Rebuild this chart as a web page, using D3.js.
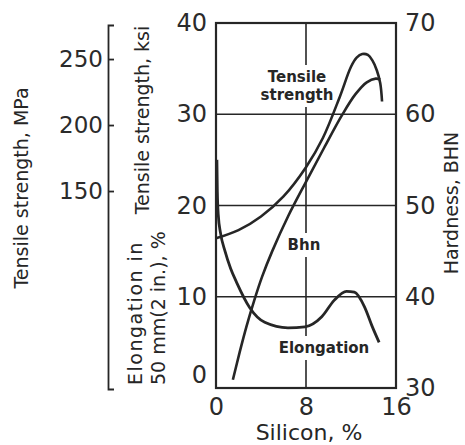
<!DOCTYPE html>
<html>
<head>
<meta charset="utf-8">
<script src="https://cdn.jsdelivr.net/npm/d3@7"></script>
<style>
  body { margin: 0; background: #fff; }
  svg { display: block; font-family: "DejaVu Sans", sans-serif; }
  .tick text { fill: #2b2b2b; }
</style>
</head>
<body>
<svg id="chart" width="465" height="445"></svg>
<script>
// tick values
const siliconTicks = [0, 8, 16];
const ksiTicks = [0, 10, 20, 30, 40];
const bhnTicks = [30, 40, 50, 60, 70];
const mpaTicks = [150, 200, 250];

// tensile strength, ksi vs silicon %
const tensileSi = [0, 2, 4, 6, 8, 9.5, 11, 12, 12.5, 13.0, 13.5, 13.9, 14.3, 14.6, 14.76];
const tensileKsi = [16.4, 17.3, 18.8, 21.0, 24.2, 27.4, 31.9, 35.2, 36.2, 36.6, 36.5, 35.9, 34.8, 33.4, 31.4];

// hardness, BHN vs silicon %
const bhnSi = [1.5, 2.1, 2.7, 3.4, 4.1, 5.0, 6.4, 8.0, 9.6, 11.2, 12.4, 13.4, 14.2, 14.6];
const bhnVal = [30.9, 33.9, 36.7, 39.6, 42.2, 45.0, 48.8, 52.6, 56.3, 59.9, 62.2, 63.5, 63.9, 63.8];

// elongation, % vs silicon %
const elongSi = [0.08, 0.12, 0.2, 0.4, 0.8, 1.3, 1.86, 3.0, 4.33, 6.4, 7.9, 9.4, 10.5, 11.6, 12.3, 13.2, 13.9, 14.5];
const elongPct = [25.0, 21.5, 19.0, 17.0, 15.0, 13.1, 11.5, 8.8, 7.2, 6.6, 6.7, 7.8, 9.6, 10.6, 10.5, 8.9, 6.7, 5.0];

const ink = "#262626";
const svg = d3.select("#chart");

const x = d3.scaleLinear().domain([0, 16]).range([216, 396]);
const yL = d3.scaleLinear().domain([0, 40]).range([388, 23]);
const yR = d3.scaleLinear().domain([30, 70]).range([388, 23]);
const yMPa = d3.scaleLinear().domain([0, 40 * 6.895]).range([389, 25]);

// grid lines
svg.append("g").selectAll("line").data([10, 20, 30]).enter().append("line")
  .attr("x1", x(0)).attr("x2", x(16))
  .attr("y1", d => yL(d)).attr("y2", d => yL(d))
  .attr("stroke", ink).attr("stroke-width", 1.6);
svg.append("line")
  .attr("x1", x(8)).attr("x2", x(8)).attr("y1", yL(0)).attr("y2", yL(40))
  .attr("stroke", ink).attr("stroke-width", 1.6);

// labels inside the plot (white boxes break the grid line)
const inner = svg.append("g").attr("font-weight", "bold").attr("fill", ink)
  .attr("font-size", 15).attr("text-anchor", "middle");
function innerLabel(lines, cx, y0) {
  const t = inner.append("text");
  lines.forEach((s, i) => t.append("tspan").attr("x", cx).attr("y", y0 + i * 18).text(s));
  const b = t.node().getBBox();
  inner.insert("rect", () => t.node())
    .attr("x", b.x - 3).attr("y", b.y - 3).attr("width", b.width + 6).attr("height", b.height + 6)
    .attr("fill", "#fff");
}
innerLabel(["Tensile", "strength"], 297, 82);
innerLabel(["Bhn"], 304, 250);
innerLabel(["Elongation"], 324, 353);

// frame
svg.append("rect")
  .attr("x", x(0)).attr("y", yL(40)).attr("width", x(16) - x(0)).attr("height", yL(0) - yL(40))
  .attr("fill", "none").attr("stroke", ink).attr("stroke-width", 2.2);

// curves
const curve = d3.curveCatmullRom.alpha(0.5);
const lineL = d3.line().x(d => x(d[0])).y(d => yL(d[1])).curve(curve);
const lineR = d3.line().x(d => x(d[0])).y(d => yR(d[1])).curve(curve);
const lineE = d3.line().x(d => x(d[0])).y(d => yL(d[1])).curve(d3.curveMonotoneX);

svg.append("path").attr("d", lineL(d3.zip(tensileSi, tensileKsi)))
  .attr("fill", "none").attr("stroke", ink).attr("stroke-width", 2.6);
svg.append("path").attr("d", lineR(d3.zip(bhnSi, bhnVal)))
  .attr("fill", "none").attr("stroke", ink).attr("stroke-width", 2.6);
svg.append("path").attr("d", lineE(d3.zip(elongSi, elongPct)))
  .attr("fill", "none").attr("stroke", ink).attr("stroke-width", 2.8);

// axes
const axL = svg.append("g").attr("transform", `translate(${x(0)},0)`)
  .call(d3.axisLeft(yL).tickValues(ksiTicks).tickSize(0).tickPadding(9));
axL.select(".domain").remove();
axL.selectAll(".tick text").filter(d => d === 0).attr("dy", "-0.25em");

const axR = svg.append("g").attr("transform", `translate(${x(16)},0)`)
  .call(d3.axisRight(yR).tickValues(bhnTicks).tickSize(0).tickPadding(9));
axR.select(".domain").remove();

const axB = svg.append("g").attr("transform", `translate(0,${yL(0)})`)
  .call(d3.axisBottom(x).tickValues(siliconTicks).tickSize(0).tickPadding(10));
axB.select(".domain").remove();

[axL, axR, axB].forEach(a => a.selectAll("text").attr("font-size", 24).attr("font-family", "DejaVu Sans"));

// MPa bracket scale
const axM = svg.append("g").attr("transform", "translate(108,0)")
  .call(d3.axisLeft(yMPa).tickValues(mpaTicks).tickSizeInner(-6).tickSizeOuter(-6).tickPadding(5));
axM.selectAll("path, line").attr("stroke", ink).attr("stroke-width", 1.8);
axM.selectAll("text").attr("font-size", 23).attr("font-family", "DejaVu Sans");

// axis titles
function title(str, tx, ty, anchor, size, spacing) {
  svg.append("text")
    .attr("transform", `translate(${tx},${ty}) rotate(-90)`)
    .attr("text-anchor", anchor).attr("font-size", size).attr("fill", ink)
    .attr("letter-spacing", spacing || 0)
    .text(str);
}
title("Tensile strength, MPa", 28, 188, "middle", 19);
title("Tensile strength, ksi", 149, 120, "middle", 19);
title("Elongation in", 142, 385, "start", 19, 1.5);
title("50 mm(2 in.), %", 165, 385, "start", 19);
title("Hardness, BHN", 458, 203, "middle", 19);

svg.append("text").attr("x", 309).attr("y", 440).attr("text-anchor", "middle")
  .attr("font-size", 22).attr("fill", ink).text("Silicon, %");
</script>
</body>
</html>
